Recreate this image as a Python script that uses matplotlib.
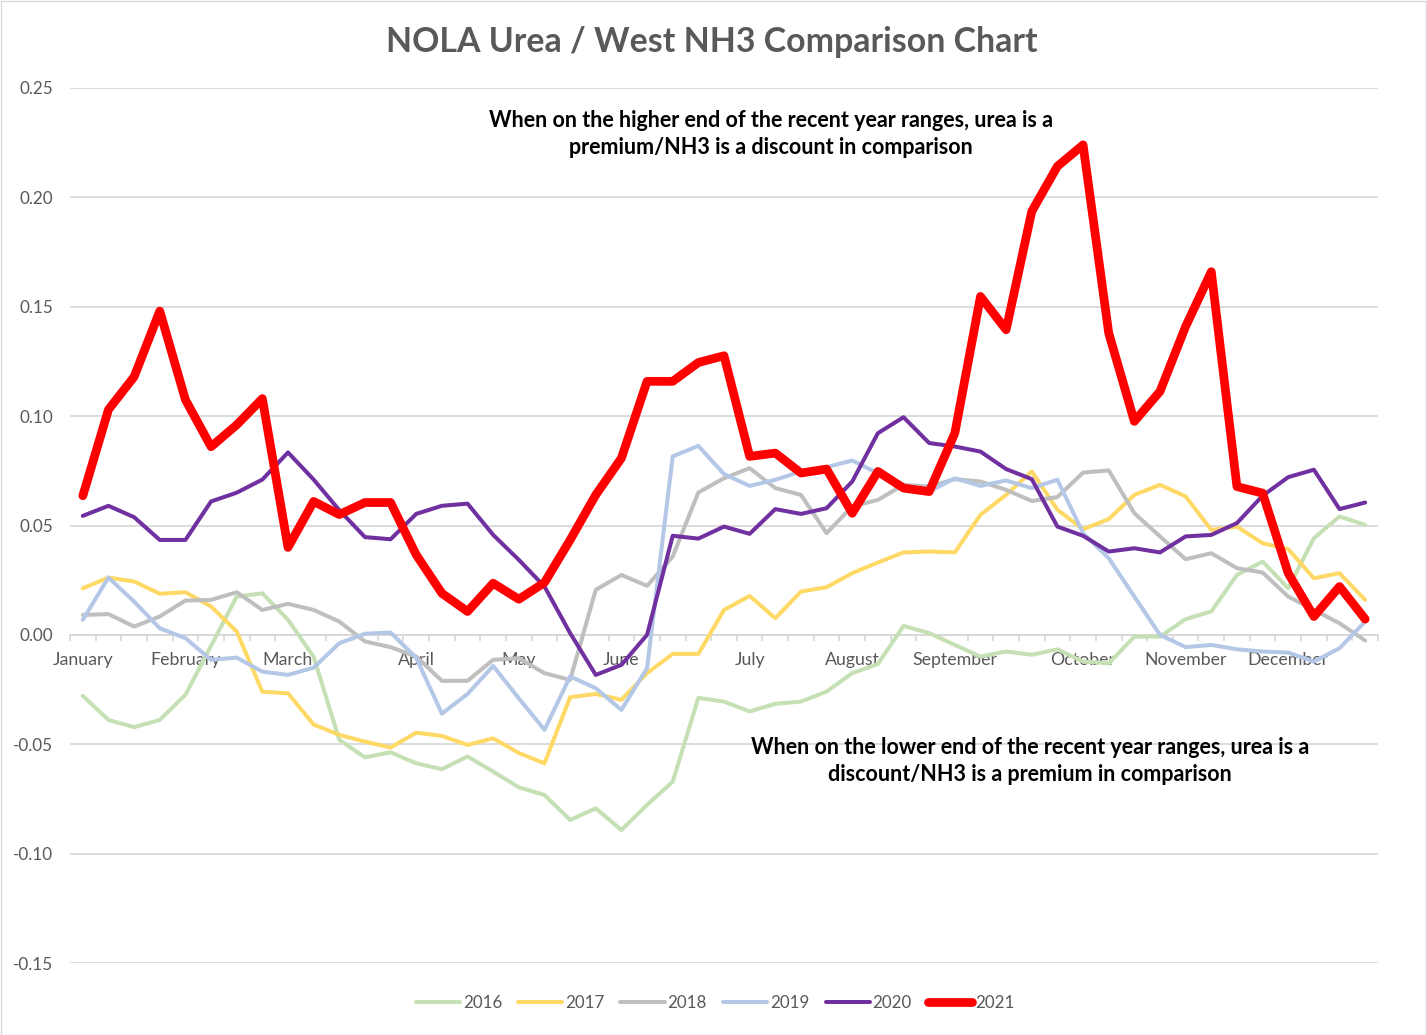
import matplotlib
matplotlib.use('Agg')
import matplotlib.pyplot as plt
from matplotlib.patches import Rectangle

# ---------------- data ----------------
months = ['January', 'February', 'March', 'April', 'May', 'June', 'July',
          'August', 'September', 'October', 'November', 'December']
month_pos = [0, 4, 8, 13, 17, 21, 26, 30, 34, 39, 43, 47]

years = ['2016', '2017', '2018', '2019', '2020', '2021']

s2016 = [-0.0279, -0.0389, -0.0422, -0.0389, -0.0274, -0.0050, 0.0175, 0.0190, 0.0069, -0.0100,
         -0.0480, -0.0560, -0.0537, -0.0587, -0.0614, -0.0556, -0.0625, -0.0697, -0.0732, -0.0846,
         -0.0793, -0.0892, -0.0777, -0.0671, -0.0288, -0.0305, -0.0350, -0.0315, -0.0305, -0.0259,
         -0.0175, -0.0133, 0.0041, 0.0008, -0.0046, -0.0099, -0.0076, -0.0091, -0.0066, -0.0122,
         -0.0130, -0.0008, -0.0008, 0.0072, 0.0107, 0.0274, 0.0335, 0.0213, 0.0442, 0.0541, 0.0503]

s2017 = [0.0213, 0.0262, 0.0244, 0.0188, 0.0195, 0.0130, 0.0015, -0.0260, -0.0267, -0.0410,
         -0.0457, -0.0488, -0.0515, -0.0447, -0.0462, -0.0503, -0.0473, -0.0540, -0.0587, -0.0285,
         -0.0270, -0.0297, -0.0175, -0.0087, -0.0087, 0.0114, 0.0178, 0.0076, 0.0198, 0.0218,
         0.0282, 0.0331, 0.0377, 0.0381, 0.0377, 0.0549, 0.0640, 0.0747, 0.0572, 0.0483,
         0.0529, 0.0640, 0.0686, 0.0633, 0.0480, 0.0495, 0.0419, 0.0392, 0.0259, 0.0282, 0.0160]

s2018 = [0.0091, 0.0095, 0.0038, 0.0084, 0.0157, 0.0160, 0.0195, 0.0114, 0.0142, 0.0114,
         0.0061, -0.0030, -0.0056, -0.0099, -0.0210, -0.0210, -0.0114, -0.0107, -0.0175, -0.0206,
         0.0206, 0.0274, 0.0224, 0.0358, 0.0651, 0.0716, 0.0762, 0.0671, 0.0640, 0.0465,
         0.0587, 0.0617, 0.0686, 0.0678, 0.0712, 0.0701, 0.0663, 0.0612, 0.0630, 0.0742,
         0.0752, 0.0556, 0.0450, 0.0346, 0.0373, 0.0305, 0.0285, 0.0175, 0.0114, 0.0053, -0.0026]

s2019 = [0.0069, 0.0262, 0.0152, 0.0030, -0.0015, -0.0114, -0.0104, -0.0168, -0.0183, -0.0150,
         -0.0038, 0.0005, 0.0011, -0.0105, -0.0360, -0.0270, -0.0142, -0.0290, -0.0434, -0.0190,
         -0.0244, -0.0343, -0.0152, 0.0816, 0.0864, 0.0735, 0.0681, 0.0709, 0.0747, 0.0767,
         0.0797, 0.0739, 0.0686, 0.0655, 0.0716, 0.0681, 0.0706, 0.0671, 0.0709, 0.0465,
         0.0351, 0.0175, 0.0000, -0.0056, -0.0046, -0.0066, -0.0076, -0.0081, -0.0122, -0.0061, 0.0061]

s2020 = [0.0544, 0.0590, 0.0538, 0.0434, 0.0434, 0.0610, 0.0650, 0.0710, 0.0834, 0.0710,
         0.0570, 0.0447, 0.0437, 0.0553, 0.0590, 0.0600, 0.0457, 0.0343, 0.0221, 0.0008,
         -0.0183, -0.0137, 0.0000, 0.0453, 0.0440, 0.0495, 0.0462, 0.0575, 0.0553, 0.0579,
         0.0701, 0.0922, 0.0995, 0.0877, 0.0861, 0.0838, 0.0758, 0.0712, 0.0495, 0.0453,
         0.0381, 0.0396, 0.0377, 0.0450, 0.0457, 0.0511, 0.0636, 0.0721, 0.0755, 0.0575, 0.0605]

s2021 = [0.0636, 0.1030, 0.1180, 0.1480, 0.1075, 0.0860, 0.0960, 0.1080, 0.0400, 0.0610,
         0.0550, 0.0605, 0.0605, 0.0366, 0.0190, 0.0107, 0.0236, 0.0163, 0.0239, 0.0434,
         0.0640, 0.0808, 0.1159, 0.1159, 0.1245, 0.1276, 0.0816, 0.0831, 0.0740, 0.0758,
         0.0556, 0.0747, 0.0671, 0.0655, 0.0922, 0.1547, 0.1395, 0.1936, 0.2142, 0.2240,
         0.1380, 0.0976, 0.1113, 0.1410, 0.1660, 0.0678, 0.0648, 0.0282, 0.0084, 0.0221, 0.0072]

series = [s2016, s2017, s2018, s2019, s2020, s2021]

y_ticks = [-0.15, -0.10, -0.05, 0.00, 0.05, 0.10, 0.15, 0.20, 0.25]
y_labels = ['-0.15', '-0.10', '-0.05', '0.00', '0.05', '0.10', '0.15', '0.20', '0.25']

title = 'NOLA Urea / West NH3 Comparison Chart'
note_high = 'When on the higher end of the recent year ranges, urea is a\npremium/NH3 is a discount in comparison'
note_low = 'When on the lower end of the recent year ranges, urea is a\ndiscount/NH3 is a premium in comparison'

# ---------------- style ----------------
colors = ['#C5E0B4', '#FFD966', '#BFBFBF', '#B4C7E7', '#7030A0', '#FF0000']
widths = [2.9, 2.9, 2.9, 2.9, 2.9, 6.3]
grid_c = '#D9D9D9'
text_c = '#595959'

plt.rcParams['font.family'] = ['Lato', 'DejaVu Sans']

W, H = 1427, 1035
fig = plt.figure(figsize=(W / 100, H / 100), dpi=100)
fig.patch.set_facecolor('white')

ax = fig.add_axes([70 / W, 1 - 963 / H, (1378 - 70) / W, (963 - 88) / H])

xs = list(range(len(s2021)))
for name, vals, c, lw in zip(years, series, colors, widths):
    ax.plot(xs, vals, color=c, lw=lw, label=name,
            solid_joinstyle='round', solid_capstyle='round', zorder=3)

ax.set_xlim(-0.5, len(xs) - 0.5)
ax.set_ylim(-0.15, 0.25)

ax.set_yticks(y_ticks)
ax.set_yticklabels(y_labels)
ax.yaxis.grid(True, color=grid_c, lw=1.3, zorder=0)
ax.set_axisbelow(True)

for s in ['top', 'right', 'left']:
    ax.spines[s].set_visible(False)
ax.spines['bottom'].set_position(('data', 0))
ax.spines['bottom'].set_color(grid_c)
ax.spines['bottom'].set_linewidth(1.3)

ax.set_xticks(month_pos)
ax.set_xticklabels(months)
ax.set_xticks([i - 0.5 for i in range(len(xs) + 1)], minor=True)
ax.tick_params(axis='x', which='major', length=0, pad=12.5, labelsize=12.8, labelcolor=text_c)
ax.tick_params(axis='x', which='minor', length=4, width=1.3, color=grid_c, direction='out')
ax.tick_params(axis='y', length=0, pad=12, labelsize=12.3, labelcolor=text_c)

fig.text(712 / W, 1 - 42 / H, title, ha='center', va='center',
         fontsize=24.4, fontweight='bold', color=text_c)
fig.text(771 / W, 1 - 134 / H, note_high, ha='center', va='center',
         fontsize=15.5, fontweight='bold', color='black', linespacing=1.33)
fig.text(1030 / W, 1 - 761 / H, note_low, ha='center', va='center',
         fontsize=15.5, fontweight='bold', color='black', linespacing=1.33)

leg = fig.legend(loc='center', bbox_to_anchor=(715 / W, 1 - 1003 / H), ncol=6,
                 frameon=False, fontsize=12.2, handlelength=2.6, handletextpad=0.18,
                 columnspacing=0.95, labelcolor=text_c)
for line in leg.get_lines():
    line.set_solid_capstyle('round')

fig.patches.append(Rectangle((0.5 / W, 0.5 / H), 1 - 1.5 / W, 1 - 1.5 / H,
                             transform=fig.transFigure, fill=False,
                             edgecolor=grid_c, lw=1.0))

fig.savefig('out.png', dpi=100, facecolor='white')
